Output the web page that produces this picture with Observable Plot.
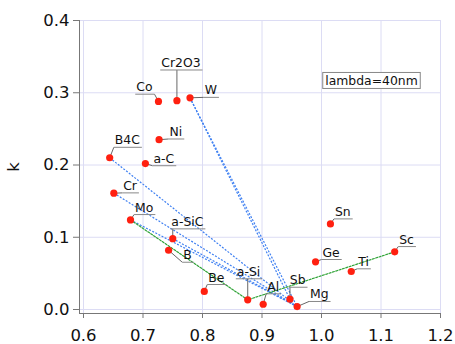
<!DOCTYPE html>
<html><head><meta charset="utf-8">
<script src="https://cdn.jsdelivr.net/npm/d3@7"></script>
<script src="https://cdn.jsdelivr.net/npm/@observablehq/plot@0.6"></script>
<style>
body{margin:0;background:#fff;}
#chart{position:relative;width:455px;height:344px;}
</style>
</head><body><div id="chart"></div>
<script>
// ---- data ----
const materials = ["Co","Cr2O3","W","Ni","B4C","a-C","Cr","Mo","a-SiC","B","Be","a-Si","Al","Sb","Mg","Sn","Ge","Ti","Sc"];
const nValues   = [0.726,0.757,0.779,0.727,0.644,0.704,0.651,0.679,0.750,0.743,0.803,0.876,0.902,0.947,0.959,1.015,0.990,1.050,1.123];
const kValues   = [0.288,0.289,0.293,0.235,0.210,0.202,0.161,0.124,0.098,0.082,0.025,0.0134,0.0073,0.0143,0.004,0.1185,0.066,0.0526,0.0798];
// label anchor (left end of the underline) in data units
const labelN    = [0.687,0.729,0.802,0.743,0.651,0.716,0.665,0.685,0.746,0.766,0.808,0.856,0.907,0.945,0.979,1.021,1.000,1.060,1.129];
const labelK    = [0.298,0.3315,0.2936,0.236,0.2245,0.199,0.1614,0.1314,0.1116,0.0654,0.0346,0.0425,0.0217,0.0308,0.0111,0.1254,0.0692,0.0563,0.0871];
const bluePairs = [["B4C","Mg"],["Cr","Mg"],["Mo","Mg"],["a-SiC","Mg"],["W","Mg"],["W","Sb"]];
const greenPath = ["Mo","a-Si","Sc"];
const xTicks = [0.6,0.7,0.8,0.9,1.0,1.1,1.2];
const yTicks = [0.0,0.1,0.2,0.3,0.4];
const yLabel = "k";
const annotation = "lambda=40nm";

// ---- layout ----
const W = 455, H = 344;
const mLeft = 79, mRight = 15, mTop = 20, mBottom = 31, gap = 4;
const font = "'DejaVu Sans', Verdana, sans-serif";
const labelSize = 12.4;

const pxPerN = (W - mRight - mLeft - gap) / (1.2 - 0.6);
const ctx = document.createElement("canvas").getContext("2d");
ctx.font = `${labelSize}px ${font}`;

const byName = new Map(materials.map((m, i) => [m, {m, n: nValues[i], k: kValues[i]}]));
const points = materials.map(m => byName.get(m));
const labels = materials.map((m, i) => {
  const w = (ctx.measureText(m).width + 3) / pxPerN;
  const x1 = labelN[i], x2 = labelN[i] + w;
  const ax = Math.min(Math.max(nValues[i], x1), x2);
  return {m, n: nValues[i], k: kValues[i], x1, x2, ly: labelK[i], ax};
});
const blueLinks = bluePairs.map(([a, b]) => ({a: byName.get(a), b: byName.get(b)}));
const greenRows = greenPath.map(m => byName.get(m));

const chart = Plot.plot({
  width: W, height: H,
  marginLeft: mLeft, marginRight: mRight, marginTop: mTop, marginBottom: mBottom,
  insetLeft: gap, insetBottom: gap,
  style: {fontFamily: font, background: "#fff", color: "#111"},
  x: {domain: [0.6, 1.2]},
  y: {domain: [0, 0.4]},
  marks: [
    Plot.gridX(xTicks, {stroke: "#dcdcf4", strokeOpacity: 1}),
    Plot.gridY(yTicks, {stroke: "#dcdcf4", strokeOpacity: 1}),
    Plot.frame({anchor: "left", stroke: "#777"}),
    Plot.frame({anchor: "bottom", stroke: "#777"}),
    Plot.axisY(yTicks, {tickSize: 6, tickPadding: 4, fontSize: 16.5, stroke: "#777", tickFormat: d3.format(".1f"),
      label: yLabel, labelAnchor: "center", labelArrow: "none", labelOffset: 72}),
    Plot.axisX(xTicks, {tickSize: 5, tickPadding: 11, fontSize: 16.5, stroke: "#777", tickFormat: d3.format(".1f"), label: null}),
    Plot.link(blueLinks, {x1: d => d.a.n, y1: d => d.a.k, x2: d => d.b.n, y2: d => d.b.k,
      stroke: "#3f80f2", strokeWidth: 1.2, strokeDasharray: "2,1.5"}),
    Plot.line(greenRows, {x: "n", y: "k", stroke: "#2fa336", strokeWidth: 1.2, strokeDasharray: "2,1.5"}),
    Plot.link(labels, {x1: "n", y1: "k", x2: "ax", y2: "ly", stroke: "#555", strokeWidth: 0.9}),
    Plot.link(labels, {x1: "x1", y1: "ly", x2: "x2", y2: "ly", stroke: "#888", strokeWidth: 1}),
    Plot.dot(points, {x: "n", y: "k", r: 3.6, fill: "#ff2010"}),
    Plot.text(labels, {x: "x1", y: "ly", text: "m", textAnchor: "start", lineAnchor: "bottom",
      dx: 1, dy: -3, fontSize: labelSize, fill: "#111"}),
    Plot.text([annotation], {text: d => d, frameAnchor: "top-right", textAnchor: "middle", lineAnchor: "middle",
      dx: -69, dy: 60.5, fontSize: labelSize, fill: "#111"})
  ]
});
document.getElementById("chart").appendChild(chart);

// box around the annotation
const svgNS = "http://www.w3.org/2000/svg";
const t = [...chart.querySelectorAll("text")].find(e => e.textContent === annotation);
if (t) {
  const bb = t.getBBox();
  const r = document.createElementNS(svgNS, "rect");
  r.setAttribute("x", bb.x - 2.5); r.setAttribute("y", bb.y - 0.5);
  r.setAttribute("width", bb.width + 5); r.setAttribute("height", bb.height + 1);
  r.setAttribute("fill", "#fff"); r.setAttribute("stroke", "#888"); r.setAttribute("stroke-width", 1);
  if (t.getAttribute("transform")) r.setAttribute("transform", t.getAttribute("transform"));
  t.parentNode.insertBefore(r, t);
}
</script>
</body></html>
